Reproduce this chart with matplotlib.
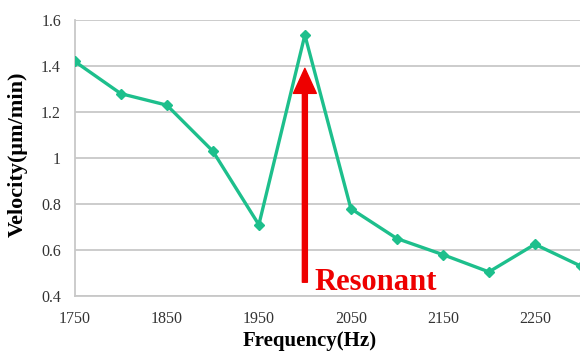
import matplotlib.pyplot as plt

freq = [1750, 1800, 1850, 1900, 1950, 2000, 2050, 2100, 2150, 2200, 2250, 2300]
velocity = [1.42, 1.28, 1.23, 1.03, 0.71, 1.535, 0.78, 0.65, 0.58, 0.505, 0.625, 0.53]
xticks = [1750, 1850, 1950, 2050, 2150, 2250]
yticks = [0.4, 0.6, 0.8, 1.0, 1.2, 1.4, 1.6]
ylabels = ['0.4', '0.6', '0.8', '1', '1.2', '1.4', '1.6']

plt.rcParams['font.family'] = ['Liberation Serif', 'DejaVu Serif']

fig = plt.figure(figsize=(5.8, 3.52), dpi=100)
ax = fig.add_axes([0.129, 0.159, 0.871, 0.784])

ax.plot(freq, velocity, '-', color='#1dbf8c', lw=2.4, marker='D', ms=5, zorder=3)

ax.set_xlim(1750, 2299)
ax.set_ylim(0.4, 1.6)
ax.set_xticks(xticks)
ax.set_yticks(yticks)
ax.set_yticklabels(ylabels)
ax.tick_params(length=0, labelsize=11.5, colors='#333333')
ax.tick_params(axis='x', pad=11)
ax.tick_params(axis='y', pad=10)
ax.grid(axis='y', color='#c8c8c8', lw=1.3)
ax.set_axisbelow(True)
for s in ['top', 'right']:
    ax.spines[s].set_visible(False)
for s in ['left', 'bottom']:
    ax.spines[s].set_color('#c8c8c8')
    ax.spines[s].set_linewidth(1.3)

ax.set_xlabel('Frequency(Hz)', fontsize=15, fontweight='bold', labelpad=0)
ax.xaxis.set_label_coords(0.465, -0.125)
ax.set_ylabel('Velocity(μm/min)', fontsize=16, fontweight='bold')
ax.yaxis.set_label_coords(-0.093, 0.515)

# resonance arrow
ax.annotate('', xy=(2000, 1.39), xytext=(2000, 0.46),
            arrowprops=dict(width=3.6, headwidth=16.5, headlength=18,
                            color='#ee0000', shrink=0))
ax.text(2010, 0.46, 'Resonant', color='#ee0000', fontsize=22,
        fontweight='bold', va='center', ha='left')

fig.savefig('out.png', dpi=100)
